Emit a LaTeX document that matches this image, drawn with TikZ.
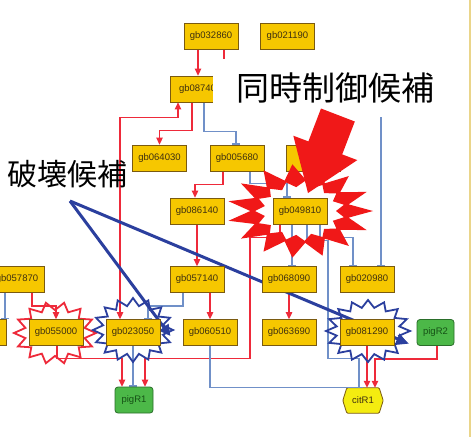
\documentclass[tikz,border=0pt]{standalone}
\usepackage{fontspec}
\setmainfont{Liberation Sans}
\newfontfamily\jpfont{Noto Sans CJK JP}
\usetikzlibrary{arrows.meta}
\definecolor{gold}{HTML}{F6C700}
\definecolor{boxedge}{HTML}{7A5A10}
\definecolor{boxtext}{HTML}{3E3010}
\definecolor{greenfill}{HTML}{4CB848}
\definecolor{greenedge}{HTML}{2A6E2A}
\definecolor{greentext}{HTML}{155015}
\definecolor{lemon}{HTML}{F4EC10}
\definecolor{redc}{HTML}{EE2A3A}
\definecolor{starred}{HTML}{F01818}
\definecolor{bluec}{HTML}{7090C8}
\definecolor{deepblue}{HTML}{2B3F9E}
\definecolor{edgegold}{HTML}{EAD58A}
\newcommand{\boxfont}{\fontsize{9.5}{10}\selectfont}
\newcommand{\burstfrag}[8]{({#1+#3*cos(#8)},{#2+#4*sin(#8)}) \foreach \k in {1,...,#6}{ -- ({#1+(1-(1-#5)*mod(\k,2))*#3*cos(#8+\k*180/#7)},{#2+(1-(1-#5)*mod(\k,2))*#4*sin(#8+\k*180/#7)})} -- cycle}
\pgfdeclarelayer{bg}
\pgfsetlayers{bg,main}
\tikzset{
  rl/.style={draw=redc, line width=1.3pt},
  ra/.style={rl, -{Triangle[length=7pt,width=6.5pt]}},
  bl/.style={draw=bluec, line width=1.2pt},
  bt/.style={bl, -{Bar[width=8pt]}},
  gbox/.style={draw=boxedge, fill=gold, line width=0.8pt, minimum width=54pt, minimum height=26pt, inner sep=0pt, text=boxtext, font=\boxfont},
  grbox/.style={draw=greenedge, fill=greenfill, line width=0.8pt, rounded corners=3pt, minimum height=26pt, inner sep=0pt, text=greentext, font=\boxfont},
  thinstar/.style={line width=1.8pt, fill=none, line join=miter},
  thick/.style={draw=deepblue, line width=3pt, -{Triangle[length=11pt,width=11pt]}},
}
\begin{document}
\begin{tikzpicture}[x=1pt,y=-1pt]
\begin{pgfonlayer}{bg}
\fill[white] (0,0) rectangle (474,437);
\end{pgfonlayer}
\useasboundingbox (0,0) rectangle (474,437);
\clip (0,0) rectangle (474,437);
\draw[edgegold, line width=2pt] (470,0) -- (470,437);

% thin starbursts
\draw[thinstar, draw=redc] \burstfrag{55}{333}{41}{31}{0.74}{27}{14}{0};
\draw[thinstar, draw=deepblue] \burstfrag{133}{330}{40}{32}{0.76}{31}{16}{0};
\draw[thinstar, draw=deepblue] \burstfrag{368}{331}{42}{31}{0.76}{31}{16}{0};

% nodes (positions)
\path
  (211,36) node[gbox] (n032860) {gb032860}
  (287.5,36) node[gbox] (n021190) {gb021190}
  (197.5,89) node[gbox] (n08740) {gb08740}
  (159.5,158) node[gbox] (n064030) {gb064030}
  (237,158) node[gbox] (n005680) {gb005680}
  (313.5,158) node[gbox] (nhid) {gb0}
  (197,211) node[gbox] (n086140) {gb086140}
  (300,211) node[gbox] (n049810) {gb049810}
  (17,279.5) node[gbox] (n057870) {gb057870}
  (197,279.5) node[gbox] (n057140) {gb057140}
  (289,279.5) node[gbox] (n068090) {gb068090}
  (367,279.5) node[gbox] (n020980) {gb020980}
  (-21,332.5) node[gbox] (nleft) {gb000000}
  (56,332.5) node[gbox] (n055000) {gb055000}
  (133,332.5) node[gbox] (n023050) {gb023050}
  (210,332.5) node[gbox] (n060510) {gb060510}
  (289,332.5) node[gbox] (n063690) {gb063690}
  (367,332.5) node[gbox] (n081290) {gb081290}
  (435.5,332.5) node[grbox, minimum width=37pt] (pigR2) {pigR2}
  (134,400) node[grbox, minimum width=38pt] (pigR1) {pigR1}
  (363,400.5) node[minimum width=32pt, minimum height=25pt, inner sep=0pt, font=\boxfont, text=boxtext] (citR1) {citR1};
\begin{pgfonlayer}{bg}
\draw[draw=boxedge, fill=lemon, line width=0.8pt, rounded corners=1pt] (citR1.north west) -- (citR1.north east) -- ([xshift=4pt]citR1.east) -- (citR1.south east) -- (citR1.south west) -- ([xshift=-4pt]citR1.west) -- cycle;
\end{pgfonlayer}

% label 1 (white box)
\node[fill=white, inner sep=0pt, minimum width=244pt, minimum height=58pt, font=\jpfont\fontsize{33}{33}\selectfont] (lab1) at (335,88) {同時制御候補};
\node[inner sep=0pt, font=\jpfont\fontsize{30}{30}\selectfont] (lab2) at (67.5,174) {破壊候補};
\coordinate (hk) at (70,201);
\coordinate (top381) at (381,117);

% connectors (drawn on bg layer so nodes cover them)
\begin{pgfonlayer}{bg}
\draw[ra] ([xshift=-13pt]n032860.south) -- ([xshift=-13pt]n032860.south |- n08740.north);
\draw[rl] ([xshift=13pt]n032860.south) -- ([xshift=13pt]n032860.south |- lab1.north);
\draw[ra] ([xshift=-5.5pt]n08740.south) -- ++(0,28) -| (n064030.north);
\draw[bt] ([xshift=6.5pt]n08740.south) -- ++(0,29) -| ([xshift=-1pt]n005680.north);
\draw[rl, {Triangle[length=7pt,width=6.5pt]}-{Triangle[length=7pt,width=6.5pt]}] ([xshift=-19.5pt]n08740.south) -- ++(0,15) -| ([xshift=-13pt]n023050.north);
\draw[ra] ([xshift=-14pt]n005680.south) -- ++(0,13) -| ([xshift=-2pt]n086140.north);
\draw[bt] ([xshift=13pt]n005680.south) -- ++(0,12) -| ([xshift=-13pt]n049810.north);
\draw[ra] (n086140.south) -- (n057140.north);
\draw[ra] ([xshift=-20pt]n049810.south) -- ++(0,13) -- ++(-30,0) -- ++(0,121) -| ([xshift=11pt]pigR1.north);
\draw[ra] ([xshift=1pt]n055000.south) -- ++(0,12.5) -| ([xshift=-12pt]pigR1.north);
\draw[bt] (n023050.south) -- (n023050.south |- pigR1.north);
\draw[bt] ([xshift=-8pt]n049810.south) -- ([xshift=-8pt]n049810.south |- n068090.north);
\draw[bt] ([xshift=7pt]n049810.south) -- ++(0,16) -- ++(21,0) -- ++(0,118) -| ([xshift=-4pt]citR1.north);
\draw[bt] ([xshift=20pt]n049810.south) -- ++(0,13) -| ([xshift=-14pt]n020980.north);
\draw[bt] (top381) -- ([xshift=14pt]n020980.north);
\draw[bt] ([xshift=-14pt]n057140.south) -- ++(0,13) -| ([xshift=15pt]n023050.north);
\draw[ra] ([xshift=13pt]n057140.south) -- ([xshift=13pt]n057140.south |- n060510.north);
\draw[ra] (n068090.south) -- (n063690.north);
\draw[bt] (n060510.south) -- ++(0,41.5) -| ([xshift=-11pt]citR1.north);
\draw[ra] (n081290.south) -- (n081290.south |- citR1.north);
\draw[ra] ([xshift=1.5pt]pigR2.south) -- ++(0,13) -| ([xshift=12pt]citR1.north);
\draw[bt] ([xshift=-12pt]n057870.south) -- ([xshift=-12pt]n057870.south |- nleft.north);
\draw[ra] ([xshift=15pt]n057870.south) -- ++(0,13) -| (n055000.north);
% thick blue pointers
\draw[thick] (hk) -- ([xshift=10pt,yshift=-3.5pt]n023050.east);
\draw[thick] (hk) -- ([xshift=13pt,yshift=-10.5pt]n081290.east);
\end{pgfonlayer}

% big red starburst ring
\fill[starred, even odd rule] \burstfrag{300}{211}{73}{47}{0.68}{29}{15}{0} \burstfrag{300}{211}{45}{30}{0.8}{29}{15}{12};
% big red arrow
\fill[starred] (308,193) -- (357.3,160.1) -- (342.2,154.4) -- (354.8,121.5) -- (321,108.5) -- (308.4,141.4) -- (293.3,135.7) -- cycle;
\end{tikzpicture}
\end{document}
